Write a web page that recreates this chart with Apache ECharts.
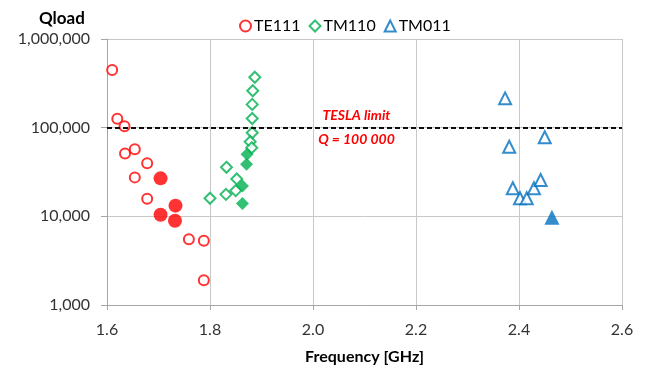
<!DOCTYPE html>
<html>
<head>
<meta charset="utf-8">
<script src="https://cdn.jsdelivr.net/npm/echarts@6/dist/echarts.min.js"></script>
<style>
  html, body { margin: 0; padding: 0; background: #fff; }
  #main { width: 645px; height: 371px; }
</style>
</head>
<body>
<div id="main"></div>
<script>
// [frequency GHz, Qload]
var te111Open = [[1.610, 447000], [1.620, 126000], [1.634, 104000], [1.635, 51000], [1.654, 57000],
  [1.678, 39600], [1.654, 27500], [1.678, 15800], [1.759, 5500], [1.788, 5300], [1.788, 1900]];
var te111Full = [[1.704, 26800], [1.733, 13200], [1.704, 10400], [1.732, 8900]];
var tm110Open = [[1.800, 16000], [1.832, 35700], [1.831, 17700], [1.850, 19500], [1.852, 26400],
  [1.887, 370000], [1.883, 261000], [1.882, 183000], [1.882, 127000], [1.882, 87700],
  [1.878, 69500], [1.881, 59400]];
var tm110Full = [[1.872, 50000], [1.871, 38600], [1.863, 22000], [1.863, 14000]];
var tm011Open = [[2.373, 214000], [2.381, 61000], [2.450, 77900], [2.388, 20700], [2.402, 16000],
  [2.415, 16000], [2.429, 20700], [2.442, 25700]];
var tm011Full = [[2.464, 9750]];
var teslaLimit = 100000;

var red = '#ff0000', green = '#00b050', blue = '#0070c0';
var font = 'Lato';

var myChart = echarts.init(document.getElementById('main'));

function openSeries(name, data, symbol, size, color) {
  return {
    name: name, type: 'scatter', data: data, symbol: symbol, symbolSize: size,
    itemStyle: { color: color, borderColor: color, borderWidth: 2 },
    z: 3
  };
}
function fullSeries(name, data, symbol, size, color) {
  return {
    name: name, type: 'scatter', data: data, symbol: symbol, symbolSize: size,
    itemStyle: { color: color },
    z: 4
  };
}

var te = openSeries('TE111', te111Open, 'emptyCircle', 10, red);
te.markLine = {
  silent: true,
  symbol: 'none',
  lineStyle: { color: '#000', type: [5, 3], width: 1.5 },
  data: [
    { yAxis: teslaLimit, label: { formatter: 'TESLA limit', position: 'insideMiddleTop', offset: [-8, 0] } },
    { yAxis: teslaLimit, label: { formatter: 'Q = 100 000', position: 'insideMiddleBottom', offset: [-8, 0] } }
  ],
  label: { color: red, fontStyle: 'italic', fontWeight: 'bold', fontSize: 14, fontFamily: font }
};

option = {
  animation: false,
  title: {
    text: 'Qload', left: 34, top: 5,
    textStyle: { fontFamily: font, fontSize: 17, fontWeight: 'bold', color: '#000' }
  },
  legend: {
    data: [
      { name: 'TE111', icon: 'emptyCircle' },
      { name: 'TM110', icon: 'emptyDiamond' },
      { name: 'TM011', icon: 'emptyTriangle' }
    ],
    left: 234, top: 13,
    itemWidth: 11, itemHeight: 11, itemGap: 8,
    textStyle: { fontFamily: font, fontSize: 16, color: '#000', padding: [0, 0, 0, -2] }
  },
  grid: { left: 107, right: 23, top: 39, bottom: 66 },
  xAxis: {
    type: 'value', min: 1.6, max: 2.6, interval: 0.2,
    name: 'Frequency [GHz]', nameLocation: 'middle', nameGap: 44,
    nameTextStyle: { fontFamily: font, fontSize: 16, fontWeight: 'bold', color: '#000' },
    axisLine: { show: true, lineStyle: { color: '#a6a6a6' } },
    axisTick: { show: true, length: 5, lineStyle: { color: '#a6a6a6' } },
    axisLabel: { margin: 17, fontFamily: font, fontSize: 16, color: '#333',
      formatter: function (v) { return v.toFixed(1); } },
    splitLine: { show: true, lineStyle: { color: '#c8c8c8' } }
  },
  yAxis: {
    type: 'log', logBase: 10, min: 1000, max: 1000000,
    axisLine: { show: true, lineStyle: { color: '#a6a6a6' } },
    axisTick: { show: true, length: 6, lineStyle: { color: '#a6a6a6' } },
    axisLabel: { margin: 17, fontFamily: font, fontSize: 16, color: '#333',
      formatter: function (v) { return Math.round(v).toLocaleString('en-US'); } },
    splitLine: { show: true, lineStyle: { color: '#c8c8c8' } }
  },
  series: [
    te,
    fullSeries('TE111 measured', te111Full, 'circle', 14, red),
    openSeries('TM110', tm110Open, 'emptyDiamond', 11, green),
    fullSeries('TM110 measured', tm110Full, 'diamond', 13, green),
    openSeries('TM011', tm011Open, 'emptyTriangle', 12, blue),
    fullSeries('TM011 measured', tm011Full, 'triangle', 15, blue)
  ]
};
myChart.setOption(option);
</script>
</body>
</html>
